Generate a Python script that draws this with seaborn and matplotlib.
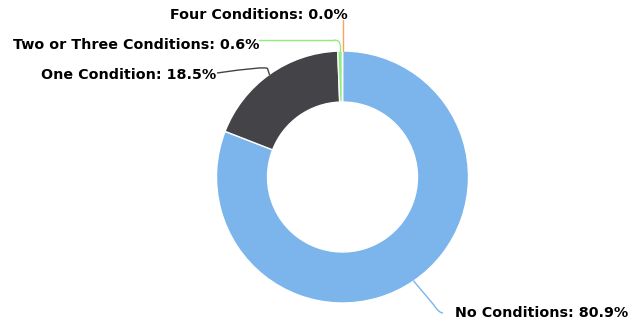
import matplotlib
matplotlib.use("Agg")
import matplotlib.pyplot as plt
import seaborn as sns
import numpy as np
from matplotlib.path import Path
from matplotlib.patches import PathPatch

# Share of people by number of chronic conditions
categories = ["No Conditions", "One Condition", "Two or Three Conditions", "Four Conditions"]
shares = [80.9, 18.5, 0.6, 0.0]
colors = ["#7cb5ec", "#434348", "#90ed7d", "#f7a35c"]

sns.set_theme(style="white")
plt.rcParams["font.family"] = ["DejaVu Sans"]

W, H = 629, 329
fig = plt.figure(figsize=(W / 100, H / 100), dpi=100)
ax = fig.add_axes([0, 0, 1, 1])

# pie centre and radius in pixels
cx, cy, R = 342.5, 177.0, 126.0

wedges, _ = ax.pie(
    shares, colors=colors, startangle=90, counterclock=False, radius=1.0,
    wedgeprops=dict(width=0.405, edgecolor="white", linewidth=1),
    normalize=True,
)
ax.set_aspect("auto")
ax.set_xlim(-cx / R, (W - cx) / R)
ax.set_ylim(-(H - cy) / R, cy / R)
ax.axis("off")


def px(x, y):
    return ((x - cx) / R, (cy - y) / R)


def mid_point(w):
    a = np.deg2rad((w.theta1 + w.theta2) / 2)
    return np.cos(a), np.sin(a)


def connector(p0, corner, p1, color):
    verts = [p0, corner, p1]
    codes = [Path.MOVETO, Path.CURVE3, Path.CURVE3]
    ax.add_patch(PathPatch(Path(verts, codes), fill=False, edgecolor=color, lw=1))


fs = 10.3
# label anchor positions (pixels) and alignment
label_pos = {
    0: ((455, 313), "left"),
    1: ((216, 75), "right"),
    2: ((259, 45), "right"),
    3: ((348, 15), "right"),
}

for i, w in enumerate(wedges):
    (lx, ly), ha = label_pos[i]
    tx, ty = px(lx, ly)
    ax.text(tx, ty, f"{categories[i]}: {shares[i]:.1f}%", ha=ha, va="center",
            fontsize=fs, fontweight="bold", color="black")
    mx, my = mid_point(w)
    if i == 0:
        end = px(443, 313)
        ax.plot([mx, mx + 0.16], [my, my - 0.19], color=colors[i], lw=1)
        connector((mx + 0.16, my - 0.19), (mx + 0.2, end[1]), end, colors[i])
    elif i == 1:
        c1 = px(265, 66)
        end = px(217, 73)
        ax.plot([mx, c1[0] + 0.02], [my, c1[1] - 0.02], color=colors[i], lw=1)
        connector((c1[0] + 0.02, c1[1] - 0.02), c1, end, colors[i])
    elif i == 2:
        top = px(0, 40)[1]
        x0 = mx
        ax.plot([x0, x0], [my, top - 0.04], color=colors[i], lw=1)
        connector((x0, top - 0.04), (x0, top), (x0 - 0.05, top), colors[i])
        ax.plot([x0 - 0.05, px(259, 0)[0]], [top, top], color=colors[i], lw=1)
    else:
        ax.plot([mx, mx], [my, px(0, 20)[1]], color=colors[i], lw=1)

fig.savefig("out.png", dpi=100)
